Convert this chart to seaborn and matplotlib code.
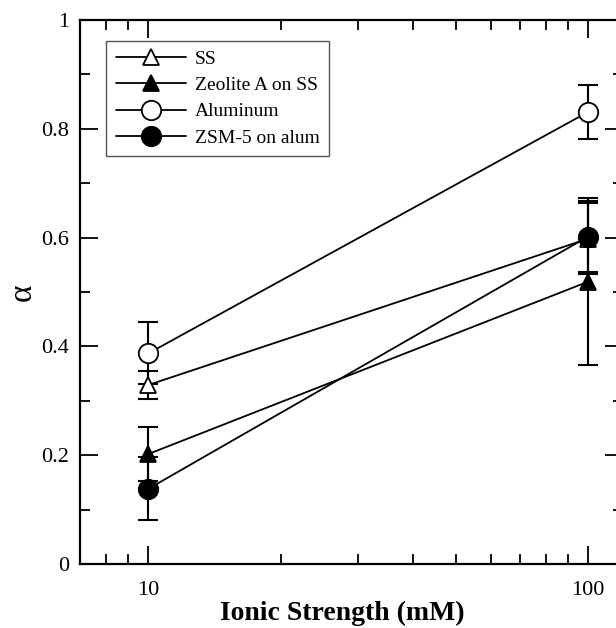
import numpy as np
import pandas as pd
import matplotlib
matplotlib.use("Agg")
import matplotlib.pyplot as plt
import seaborn as sns
from matplotlib.ticker import FixedLocator, FormatStrFormatter, NullFormatter

ionic = [10, 100]
series = ["SS", "Zeolite A on SS", "Aluminum", "ZSM-5 on alum"]
alpha_ss = [0.329, 0.598]
err_ss = [0.025, 0.065]
alpha_zeo = [0.202, 0.519]
err_zeo = [0.050, 0.153]
alpha_al = [0.387, 0.831]
err_al = [0.057, 0.050]
alpha_zsm = [0.138, 0.602]
err_zsm = [0.058, 0.066]

values = [alpha_ss, alpha_zeo, alpha_al, alpha_zsm]
errors = [err_ss, err_zeo, err_al, err_zsm]
markers = ["^", "^", "o", "o"]
fills = ["white", "black", "white", "black"]
msizes = [11, 12, 14, 14]

sns.set_theme(style="ticks")
plt.rcParams["font.family"] = ["Liberation Serif", "DejaVu Serif"]
plt.rcParams["text.color"] = "black"
plt.rcParams["axes.labelcolor"] = "black"

fig = plt.figure(figsize=(6.16, 6.28), dpi=100)
ax = fig.add_axes([80/616, 64/628, 543/616, 544/628])

for i, name in enumerate(series):
    df = pd.DataFrame({"x": ionic, "y": values[i]})
    sns.lineplot(data=df, x="x", y="y", ax=ax, color="black", lw=1.3,
                 marker=markers[i], markersize=msizes[i], markerfacecolor=fills[i],
                 markeredgecolor="black", markeredgewidth=1.3, label=name, zorder=3)
    ax.errorbar(ionic, values[i], yerr=errors[i], fmt="none", ecolor="black",
                elinewidth=1.5, capsize=7, capthick=1.5, zorder=2)

ax.set_xscale("log")
ax.set_xlim(7, 120)
ax.set_ylim(0, 1)

ax.xaxis.set_major_locator(FixedLocator([10, 100]))
ax.xaxis.set_minor_locator(FixedLocator([8, 9, 20, 30, 40, 50, 60, 70, 80, 90]))
ax.xaxis.set_major_formatter(FormatStrFormatter("%g"))
ax.xaxis.set_minor_formatter(NullFormatter())
ax.yaxis.set_major_locator(FixedLocator([0, 0.2, 0.4, 0.6, 0.8, 1.0]))
ax.yaxis.set_minor_locator(FixedLocator([0.1, 0.3, 0.5, 0.7, 0.9]))
ax.yaxis.set_major_formatter(FormatStrFormatter("%g"))

ax.tick_params(which="both", direction="in", top=True, right=True, colors="black",
               labelsize=16, width=1.3)
ax.tick_params(which="major", length=13)
ax.tick_params(axis="x", which="major", pad=12)
ax.tick_params(axis="y", which="major", pad=8)
ax.tick_params(which="minor", length=7)
for s in ax.spines.values():
    s.set_linewidth(1.6)
    s.set_color("black")

ax.set_xlabel("Ionic Strength (mM)", fontsize=20, fontweight="bold", color="black")
ax.xaxis.set_label_coords(0.483, -0.090)
ax.xaxis.label.set_verticalalignment("center")
ax.set_ylabel("α", fontsize=24, color="black")
ax.yaxis.set_label_coords(-0.106, 0.5)
ax.yaxis.label.set_verticalalignment("center")

leg = ax.legend(loc="upper left", bbox_to_anchor=(0.048, 0.962), fontsize=14,
                frameon=True, fancybox=False, edgecolor="#555555", framealpha=1,
                handlelength=3.6, labelspacing=0.44, borderpad=0.5, handletextpad=0.45,
                borderaxespad=0)
leg.get_frame().set_linewidth(1.0)
for t in leg.get_texts():
    t.set_color("black")

fig.savefig("out.png", dpi=100)
